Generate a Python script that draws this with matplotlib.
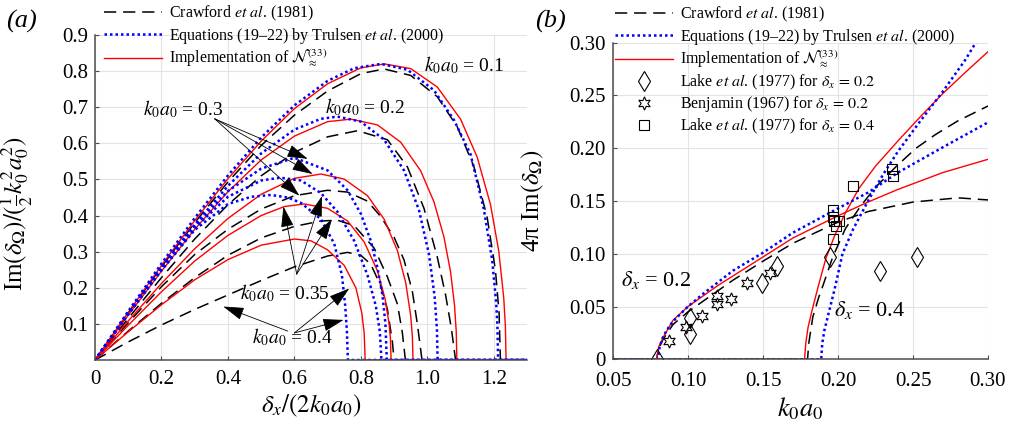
import numpy as np
import matplotlib
matplotlib.use("Agg")
import matplotlib.pyplot as plt
from matplotlib.lines import Line2D

plt.rcParams['font.family'] = ['Liberation Serif', 'DejaVu Serif']
plt.rcParams['mathtext.fontset'] = 'stix'

# ---- panel (a): growth rate vs delta_x/(2 k0 a0) ----
# N33 implementation (red)
red_01_x = [0, 0.1, 0.2, 0.3, 0.4, 0.5, 0.6, 0.7, 0.8, 0.87, 0.95, 1.03, 1.1, 1.15, 1.19, 1.215, 1.23, 1.235, 1.237, 1.3]
red_01_y = [0, 0.132, 0.262, 0.386, 0.502, 0.606, 0.696, 0.765, 0.809, 0.820, 0.807, 0.756, 0.667, 0.562, 0.431, 0.302, 0.172, 0.093, 0, 0]
red_02_x = [0, 0.1, 0.2, 0.3, 0.4, 0.5, 0.6, 0.7, 0.77, 0.85, 0.92, 0.98, 1.02, 1.05, 1.07, 1.082, 1.087, 1.089, 1.3]
red_02_y = [0, 0.124, 0.246, 0.362, 0.466, 0.554, 0.620, 0.660, 0.667, 0.651, 0.603, 0.524, 0.438, 0.341, 0.244, 0.150, 0.080, 0, 0]
red_03_x = [0, 0.1, 0.2, 0.3, 0.4, 0.5, 0.6, 0.68, 0.75, 0.82, 0.87, 0.91, 0.935, 0.95, 0.955, 0.957, 1.3]
red_03_y = [0, 0.108, 0.212, 0.308, 0.392, 0.459, 0.503, 0.515, 0.501, 0.455, 0.390, 0.303, 0.214, 0.123, 0.066, 0, 0]
red_035_x = [0, 0.1, 0.2, 0.3, 0.4, 0.5, 0.57, 0.63, 0.7, 0.76, 0.81, 0.85, 0.873, 0.885, 0.889, 0.891, 1.3]
red_035_y = [0, 0.096, 0.189, 0.274, 0.345, 0.400, 0.425, 0.432, 0.420, 0.385, 0.327, 0.247, 0.169, 0.100, 0.060, 0, 0]
red_04_x = [0, 0.1, 0.2, 0.3, 0.4, 0.5, 0.6, 0.65, 0.7, 0.75, 0.785, 0.803, 0.81, 0.813, 1.3]
red_04_y = [0, 0.078, 0.153, 0.222, 0.278, 0.318, 0.335, 0.330, 0.305, 0.262, 0.200, 0.130, 0.075, 0, 0]

# Trulsen et al. (2000) (blue dotted)
blue_01_x = [0, 0.1, 0.2, 0.3, 0.4, 0.5, 0.6, 0.7, 0.78, 0.86, 0.94, 1.02, 1.08, 1.13, 1.17, 1.195, 1.207, 1.211, 1.213, 1.3]
blue_01_y = [0, 0.135, 0.267, 0.393, 0.511, 0.616, 0.705, 0.773, 0.808, 0.820, 0.804, 0.747, 0.665, 0.570, 0.418, 0.278, 0.162, 0.095, 0, 0]
blue_02_x = [0, 0.1, 0.2, 0.3, 0.4, 0.5, 0.6, 0.68, 0.73, 0.8, 0.87, 0.93, 0.975, 1.005, 1.022, 1.029, 1.031, 1.3]
blue_02_y = [0, 0.130, 0.256, 0.375, 0.482, 0.572, 0.638, 0.668, 0.674, 0.660, 0.610, 0.525, 0.415, 0.293, 0.176, 0.085, 0, 0]
blue_03_x = [0, 0.1, 0.2, 0.3, 0.4, 0.5, 0.6, 0.7, 0.76, 0.8, 0.83, 0.85, 0.865, 0.874, 0.878, 1.3]
blue_03_y = [0, 0.130, 0.255, 0.372, 0.468, 0.530, 0.560, 0.525, 0.470, 0.405, 0.330, 0.255, 0.180, 0.100, 0, 0]
blue_035_x = [0, 0.1, 0.2, 0.3, 0.4, 0.5, 0.557, 0.62, 0.68, 0.73, 0.78, 0.82, 0.845, 0.857, 0.862, 1.3]
blue_035_y = [0, 0.128, 0.252, 0.366, 0.452, 0.497, 0.505, 0.497, 0.462, 0.410, 0.330, 0.235, 0.150, 0.080, 0, 0]
blue_04_x = [0, 0.1, 0.2, 0.3, 0.4, 0.47, 0.53, 0.58, 0.62, 0.68, 0.72, 0.743, 0.753, 0.758, 0.761, 1.3]
blue_04_y = [0, 0.126, 0.248, 0.360, 0.432, 0.452, 0.457, 0.450, 0.435, 0.390, 0.322, 0.235, 0.150, 0.080, 0, 0]

# Crawford et al. (1981) (black dashed)
black_01_x = [0, 0.1, 0.2, 0.3, 0.4, 0.5, 0.6, 0.7, 0.8, 0.87, 0.95, 1.03, 1.09, 1.14, 1.18, 1.205, 1.216, 1.22, 1.3]
black_01_y = [0, 0.130, 0.258, 0.380, 0.493, 0.594, 0.678, 0.745, 0.793, 0.806, 0.788, 0.729, 0.646, 0.536, 0.396, 0.249, 0.130, 0, 0]
black_02_x = [0, 0.1, 0.2, 0.3, 0.4, 0.5, 0.6, 0.7, 0.79, 0.88, 0.94, 0.99, 1.03, 1.055, 1.072, 1.085, 1.3]
black_02_y = [0, 0.115, 0.228, 0.335, 0.430, 0.510, 0.575, 0.618, 0.635, 0.610, 0.535, 0.420, 0.285, 0.180, 0.090, 0, 0]
black_03_x = [0, 0.1, 0.2, 0.3, 0.4, 0.5, 0.6, 0.7, 0.76, 0.82, 0.86, 0.9, 0.93, 0.955, 0.97, 0.984, 1.3]
black_03_y = [0, 0.103, 0.203, 0.292, 0.362, 0.418, 0.455, 0.470, 0.465, 0.440, 0.397, 0.340, 0.277, 0.190, 0.100, 0, 0]
black_035_x = [0, 0.1, 0.2, 0.3, 0.4, 0.5, 0.6, 0.68, 0.73, 0.78, 0.84, 0.88, 0.91, 0.925, 0.934, 1.3]
black_035_y = [0, 0.080, 0.157, 0.228, 0.290, 0.338, 0.370, 0.385, 0.387, 0.372, 0.310, 0.230, 0.155, 0.075, 0, 0]
black_04_x = [0, 0.1, 0.2, 0.3, 0.4, 0.5, 0.6, 0.7, 0.76, 0.8, 0.83, 0.86, 0.88, 0.895, 0.9, 1.3]
black_04_y = [0, 0.050, 0.097, 0.140, 0.180, 0.220, 0.258, 0.288, 0.298, 0.290, 0.265, 0.205, 0.140, 0.050, 0, 0]

# ---- panel (b): 4 pi Im(delta_Omega) vs k0 a0 ----
red_d02_x = [0.05, 0.079, 0.0805, 0.0835, 0.09, 0.1, 0.11, 0.12, 0.13, 0.15, 0.17, 0.2, 0.22, 0.24, 0.27, 0.30]
red_d02_y = [0, 0, 0.012, 0.021, 0.037, 0.050, 0.060, 0.070, 0.079, 0.097, 0.115, 0.136, 0.149, 0.161, 0.177, 0.1895]
blue_d02_x = [0.05, 0.08, 0.081, 0.083, 0.086, 0.09, 0.1, 0.11, 0.12, 0.13, 0.15, 0.17, 0.2, 0.22, 0.24, 0.27, 0.30]
blue_d02_y = [0, 0, 0.011, 0.020, 0.028, 0.036, 0.050, 0.062, 0.073, 0.084, 0.101, 0.120, 0.143, 0.158, 0.177, 0.201, 0.2245]
black_d02_x = [0.05, 0.079, 0.0805, 0.083, 0.09, 0.1, 0.11, 0.12, 0.13, 0.15, 0.17, 0.2, 0.22, 0.25, 0.28, 0.30]
black_d02_y = [0, 0, 0.010, 0.018, 0.033, 0.045, 0.055, 0.065, 0.075, 0.093, 0.110, 0.130, 0.140, 0.149, 0.153, 0.151]

red_d04_x = [0.05, 0.1777, 0.1785, 0.18, 0.183, 0.187, 0.192, 0.198, 0.205, 0.214, 0.225, 0.24, 0.255, 0.27, 0.285, 0.30]
red_d04_y = [0, 0, 0.015, 0.030, 0.048, 0.070, 0.096, 0.118, 0.139, 0.162, 0.183, 0.207, 0.230, 0.252, 0.272, 0.2915]
blue_d04_x = [0.05, 0.1888, 0.1895, 0.191, 0.194, 0.198, 0.203, 0.21, 0.22, 0.23, 0.24, 0.255, 0.27, 0.285, 0.2918, 0.30]
blue_d04_y = [0, 0, 0.015, 0.028, 0.045, 0.068, 0.100, 0.123, 0.150, 0.175, 0.197, 0.226, 0.254, 0.284, 0.300, 0.316]
black_d04_x = [0.05, 0.1797, 0.1805, 0.1832, 0.187, 0.19, 0.1965, 0.205, 0.215, 0.225, 0.239, 0.252, 0.265, 0.28, 0.30]
black_d04_y = [0, 0, 0.015, 0.040, 0.058, 0.070, 0.097, 0.124, 0.145, 0.163, 0.183, 0.200, 0.213, 0.226, 0.240]

# experiments
lake02_x = [0.079, 0.1012, 0.1015, 0.1494, 0.159, 0.1946, 0.2282, 0.2526]
lake02_y = [0.0, 0.024, 0.039, 0.072, 0.088, 0.097, 0.084, 0.0966]
benj_x = [0.0873, 0.0988, 0.109, 0.1194, 0.1194, 0.1288, 0.1393, 0.1544]
benj_y = [0.0172, 0.031, 0.041, 0.052, 0.060, 0.0575, 0.072, 0.082]
lake04_x = [0.1965, 0.1965, 0.1976, 0.2009, 0.1987, 0.1965, 0.2098, 0.2358, 0.2367]
lake04_y = [0.1415, 0.1351, 0.131, 0.131, 0.1263, 0.1137, 0.1645, 0.180, 0.1737]

RED = '#ff0000'
BLUE = '#0000ff'
dash_style = dict(color='k', lw=1.1, linestyle=(0, (8, 4.5)))
dot_style = dict(color=BLUE, lw=1.8, linestyle=(0, (1, 1.2)))
solid_style = dict(color=RED, lw=1.0)

W, H = 1010, 421
fig = plt.figure(figsize=(W / 100, H / 100), dpi=100)
ax1 = fig.add_axes([95 / W, 61 / H, 432 / W, 325 / H])
ax2 = fig.add_axes([613 / W, 61.7 / H, 375 / W, 316.6 / H])


def style_axes(ax, xpad=7):
    ax.grid(True, color='#e3e3e3', lw=0.8)
    ax.set_axisbelow(True)
    for s in ['top', 'right']:
        ax.spines[s].set_visible(False)
    for s in ['left', 'bottom']:
        ax.spines[s].set_color('#4d4d4d')
        ax.spines[s].set_linewidth(1.1)
    ax.tick_params(direction='in', length=3, labelsize=15, color='#4d4d4d', pad=5)
    ax.tick_params(axis='x', pad=xpad)


# panel (a)
blacks = [(black_01_x, black_01_y), (black_02_x, black_02_y), (black_03_x, black_03_y),
          (black_035_x, black_035_y), (black_04_x, black_04_y)]
reds = [(red_01_x, red_01_y), (red_02_x, red_02_y), (red_03_x, red_03_y),
        (red_035_x, red_035_y), (red_04_x, red_04_y)]
blues = [(blue_01_x, blue_01_y), (blue_02_x, blue_02_y), (blue_03_x, blue_03_y),
         (blue_035_x, blue_035_y), (blue_04_x, blue_04_y)]
for x, y in blacks:
    ax1.plot(x, y, **dash_style)
for x, y in reds:
    ax1.plot(x, y, **solid_style)
for x, y in blues:
    ax1.plot(x, y, **dot_style)

ax1.set_xlim(0, 1.3)
ax1.set_ylim(0, 0.9)
ax1.set_xticks([0, 0.2, 0.4, 0.6, 0.8, 1.0, 1.2])
ax1.set_xticklabels(['0', '0.2', '0.4', '0.6', '0.8', '1.0', '1.2'])
ax1.set_yticks([0.1, 0.2, 0.3, 0.4, 0.5, 0.6, 0.7, 0.8, 0.9])
ax1.set_yticklabels(['0.1', '0.2', '0.3', '0.4', '0.5', '0.6', '0.7', '0.8', '0.9'])
style_axes(ax1)
ax1.set_xlabel(r'$\delta_x/(2k_0a_0)$', fontsize=18)
ax1.xaxis.set_label_coords(0.5, -0.1)
ax1.set_ylabel(r'Im$(\delta_\Omega)/(\frac{1}{2}k_0^2a_0^2)$', fontsize=18)
ax1.yaxis.set_label_coords(-0.14, 0.45)

ann_fs = 14
ax1.text(0.99, 0.817, r'$k_0a_0$ = 0.1', fontsize=ann_fs, va='center')
ax1.text(0.693, 0.70, r'$k_0a_0$ = 0.2', fontsize=ann_fs, va='center')
ax1.text(0.145, 0.695, r'$k_0a_0$ = 0.3', fontsize=ann_fs, va='center')
ax1.text(0.437, 0.186, r'$k_0a_0$ = 0.35', fontsize=ann_fs, va='center')
ax1.text(0.472, 0.062, r'$k_0a_0$ = 0.4', fontsize=ann_fs, va='center')

arrow_kw = dict(arrowstyle='-|>,head_length=1.3,head_width=0.4', color='k', lw=0.6,
                shrinkA=0, shrinkB=0, mutation_scale=10)
for head in [(0.64, 0.557), (0.655, 0.515), (0.615, 0.455)]:
    ax1.annotate('', xy=head, xytext=(0.36, 0.668), arrowprops=arrow_kw)
for head in [(0.567, 0.425), (0.683, 0.454), (0.713, 0.39)]:
    ax1.annotate('', xy=head, xytext=(0.607, 0.238), arrowprops=arrow_kw)
ax1.annotate('', xy=(0.386, 0.148), xytext=(0.58, 0.08), arrowprops=arrow_kw)
for head in [(0.765, 0.198), (0.748, 0.111)]:
    ax1.annotate('', xy=head, xytext=(0.6, 0.075), arrowprops=arrow_kw)

lab_crawford = r'Crawford $\mathit{et\ al}$. (1981)'
lab_trulsen = r'Equations (19–22) by Trulsen $\mathit{et\ al}$. (2000)'
lab_n33 = r'Implementation of $\mathcal{N}_{\approx}^{(33)}$'
h_dash = Line2D([], [], **dash_style)
h_dot = Line2D([], [], **dot_style)
h_red = Line2D([], [], **solid_style)
leg_kw = dict(frameon=False, fontsize=11.5, handlelength=3.6, handletextpad=0.45,
              labelspacing=0.15, borderpad=0, borderaxespad=0, loc='upper left',
              bbox_transform=fig.transFigure)
ax1.legend([h_dash, h_dot, h_red], [lab_crawford, lab_trulsen, lab_n33],
           bbox_to_anchor=(104 / W, 1 - 4 / H), **leg_kw)

# panel (b)
ax2.plot(black_d02_x, black_d02_y, **dash_style)
ax2.plot(black_d04_x, black_d04_y, **dash_style)
ax2.plot(red_d02_x, red_d02_y, **solid_style)
ax2.plot(red_d04_x, red_d04_y, **solid_style)
ax2.plot(blue_d02_x, blue_d02_y, **dot_style)
ax2.plot(blue_d04_x, blue_d04_y, **dot_style)
mk = dict(linestyle='none', markerfacecolor='none', markeredgecolor='k', markeredgewidth=0.8)
h_dia, = ax2.plot(lake02_x, lake02_y, marker='d', markersize=10.5, **mk)
h_hex, = ax2.plot(benj_x, benj_y, marker=(6, 1, 0), markersize=9.5, **mk)
h_sq, = ax2.plot(lake04_x, lake04_y, marker='s', markersize=7.5, **mk)

ax2.set_xlim(0.05, 0.30)
ax2.set_ylim(0, 0.30)
ax2.set_xticks([0.05, 0.10, 0.15, 0.20, 0.25, 0.30])
ax2.set_xticklabels(['0.05', '0.10', '0.15', '0.20', '0.25', '0.30'])
ax2.set_yticks([0, 0.05, 0.10, 0.15, 0.20, 0.25, 0.30])
ax2.set_yticklabels(['0', '0.05', '0.10', '0.15', '0.20', '0.25', '0.30'])
style_axes(ax2, xpad=9)
ax2.set_xlabel(r'$k_0a_0$', fontsize=19)
ax2.xaxis.set_label_coords(0.5, -0.115)
ax2.set_ylabel(r'4π Im$(\delta_\Omega)$', fontsize=18)
ax2.yaxis.set_label_coords(-0.18, 0.5)

ax2.text(0.0555, 0.075, r'$\delta_x$ = 0.2', fontsize=16, va='center')
ax2.text(0.1976, 0.047, r'$\delta_x$ = 0.4', fontsize=16, va='center')

ax2.legend([h_dash, h_dot, h_red, h_dia, h_hex, h_sq],
           [lab_crawford, lab_trulsen, lab_n33,
            r'Lake $\mathit{et\ al}$. (1977) for $\delta_x\,=\,0.2$',
            r'Benjamin (1967) for $\delta_x\,=\,0.2$',
            r'Lake $\mathit{et\ al}$. (1977) for $\delta_x\,=\,0.4$'],
           bbox_to_anchor=(615 / W, 1 - 5 / H), numpoints=1, **leg_kw)

fig.text(21 / W, 1 - 21 / H, '(a)', fontsize=19, style='italic', ha='center', va='center')
fig.text(550 / W, 1 - 21 / H, '(b)', fontsize=19, style='italic', ha='center', va='center')

fig.savefig('out.png', dpi=100)
